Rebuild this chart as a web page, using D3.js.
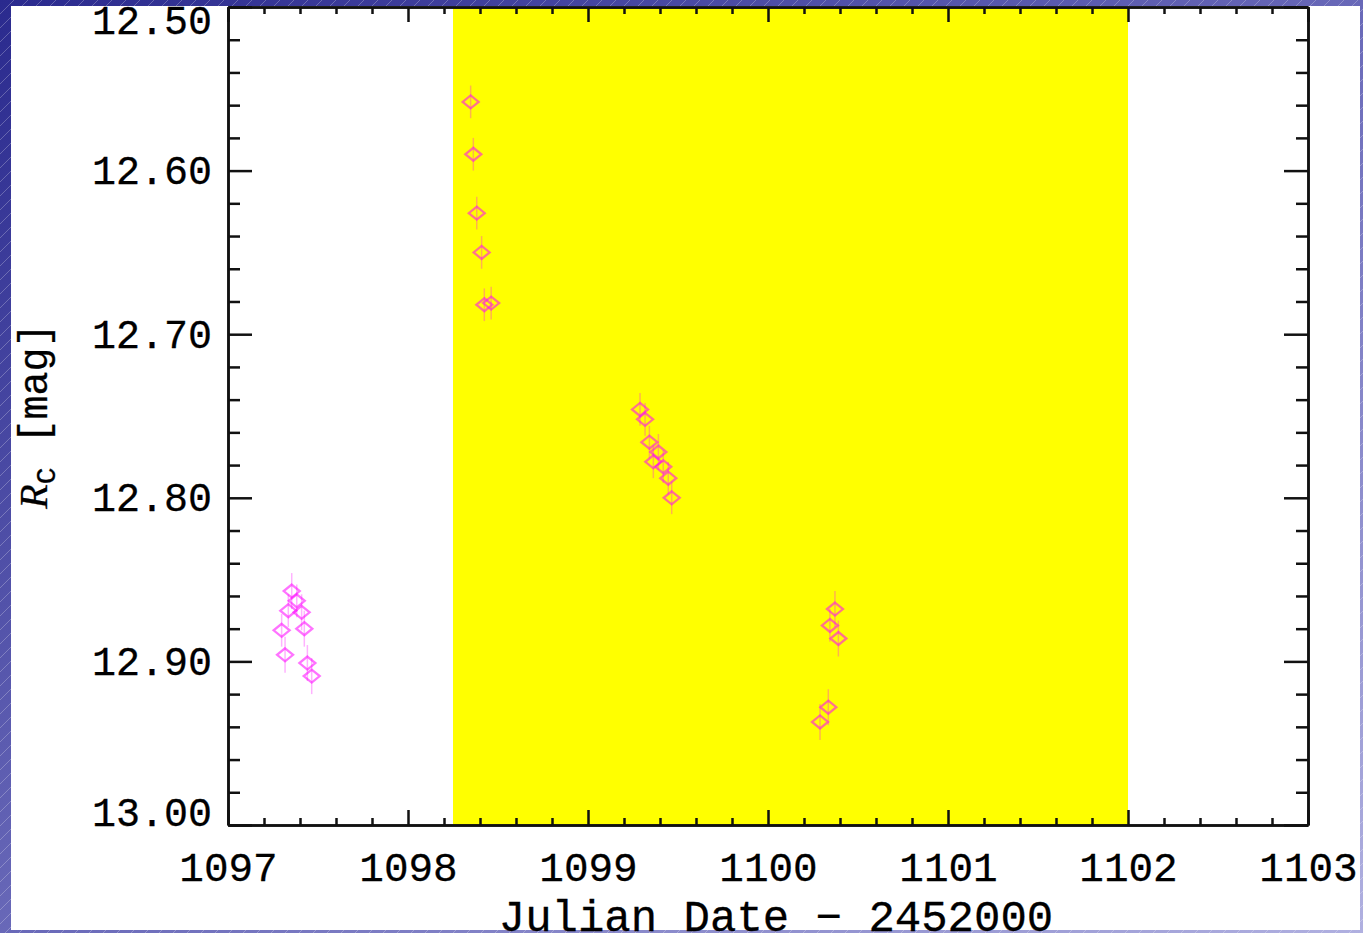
<!DOCTYPE html>
<html>
<head>
<meta charset="utf-8">
<script src="https://cdn.jsdelivr.net/npm/d3@7"></script>
<style>
  body { margin: 0; padding: 0; overflow: hidden; }
  svg { display: block; }
  .tick text { font-family: "Liberation Mono", monospace; fill: #000; }
</style>
</head>
<body>
<svg width="1363" height="933"></svg>
<script>
// observations (Julian Date - 2452000), Rc magnitude and its error
var jdValues = [
  1097.354, 1097.382, 1097.335, 1097.409, 1097.298, 1097.424, 1097.317, 1097.441, 1097.465,
  1098.348, 1098.363, 1098.382, 1098.409, 1098.424, 1098.462,
  1099.289, 1099.317, 1099.341, 1099.391, 1099.363, 1099.418, 1099.446, 1099.465,
  1100.372, 1100.344, 1100.391, 1100.335, 1100.289
];
var magValues = [
  12.857, 12.863, 12.869, 12.870, 12.881, 12.880, 12.896, 12.901, 12.909,
  12.558, 12.590, 12.626, 12.650, 12.682, 12.681,
  12.746, 12.752, 12.766, 12.772, 12.778, 12.781, 12.788, 12.800,
  12.868, 12.878, 12.886, 12.928, 12.937
];
var magErrors = [
  0.011, 0.010, 0.010, 0.011, 0.010, 0.011, 0.011, 0.011, 0.011,
  0.010, 0.010, 0.010, 0.010, 0.010, 0.010,
  0.010, 0.010, 0.010, 0.011, 0.010, 0.010, 0.010, 0.010,
  0.011, 0.010, 0.011, 0.011, 0.011
];
// shaded interval (yellow band)
var bandRange = [1098.25, 1102.0];
var xTickValues = [1097, 1098, 1099, 1100, 1101, 1102, 1103];
var yTickValues = [12.5, 12.6, 12.7, 12.8, 12.9, 13.0];

var svg = d3.select("svg"), width = +svg.attr("width"), height = +svg.attr("height");

// slide background: blue gradient with faint diagonal stripes
var defs = svg.append("defs");
var grad = defs.append("linearGradient").attr("id", "bg")
  .attr("x1", "0%").attr("y1", "0%").attr("x2", "100%").attr("y2", "100%");
grad.append("stop").attr("offset", "0%").attr("stop-color", "#2a2a8e");
grad.append("stop").attr("offset", "50%").attr("stop-color", "#6868b8");
grad.append("stop").attr("offset", "100%").attr("stop-color", "#b0b0e0");
var pat = defs.append("pattern").attr("id", "stripes")
  .attr("width", 14).attr("height", 14).attr("patternUnits", "userSpaceOnUse");
pat.append("path").attr("d", "M0,14 L14,0").attr("stroke", "#ffffff")
  .attr("stroke-opacity", 0.25).attr("stroke-width", 1);

svg.append("rect").attr("width", width).attr("height", height).attr("fill", "url(#bg)");
svg.append("rect").attr("width", width).attr("height", height).attr("fill", "url(#stripes)");
svg.append("rect").attr("x", 11).attr("y", 6).attr("width", 1349).attr("height", 924).attr("fill", "#ffffff");

// plot area (names avoid window.top etc.)
var plotLeft = 228, plotRight = 1308, plotTop = 7, plotBottom = 825;
var x = d3.scaleLinear().domain([1097, 1103]).range([plotLeft, plotRight]);
var y = d3.scaleLinear().domain([12.5, 13.0]).range([plotTop, plotBottom]);

var xMinor = d3.range(1097, 1103.001, 0.2).filter(function(v) { return Math.abs(v - Math.round(v)) > 1e-6; });
var yMinor = d3.range(12.5, 13.0001, 0.02).filter(function(v) { return Math.abs(v * 10 - Math.round(v * 10)) > 1e-6; });

// yellow band
svg.append("rect")
  .attr("x", x(bandRange[0])).attr("y", plotTop)
  .attr("width", x(bandRange[1]) - x(bandRange[0]))
  .attr("height", plotBottom - plotTop)
  .attr("fill", "#ffff00");

// data: error bars then open diamonds
var data = jdValues.map(function(d, i) { return { jd: d, mag: magValues[i], err: magErrors[i] }; });
var pts = svg.append("g").attr("class", "points");
pts.selectAll("line").data(data).enter().append("line")
  .attr("x1", function(d) { return x(d.jd); })
  .attr("x2", function(d) { return x(d.jd); })
  .attr("y1", function(d) { return y(d.mag - d.err); })
  .attr("y2", function(d) { return y(d.mag + d.err); })
  .attr("stroke", "#ff00ff").attr("stroke-opacity", 0.3).attr("stroke-width", 1.5);

var dw = 8, dh = 6.5;
pts.selectAll("path").data(data).enter().append("path")
  .attr("d", "M0," + (-dh) + "L" + dw + ",0L0," + dh + "L" + (-dw) + ",0Z")
  .attr("transform", function(d) { return "translate(" + x(d.jd) + "," + y(d.mag) + ")"; })
  .attr("fill", "none").attr("stroke", "#ff00ff").attr("stroke-opacity", 0.55).attr("stroke-width", 2.3);

// axes with inward ticks on all four sides
function styleAxis(g) {
  g.select(".domain").attr("stroke", "#111").attr("stroke-width", 2.5);
  g.selectAll(".tick line").attr("stroke", "#111").attr("stroke-width", 2.5);
}

var gx = svg.append("g").attr("transform", "translate(0," + plotBottom + ")")
  .call(d3.axisBottom(x).tickValues(xTickValues).tickFormat(d3.format("d")).tickSizeInner(-15).tickSizeOuter(0).tickPadding(27));
gx.selectAll(".tick text").attr("font-size", 41).attr("stroke", "#000").attr("stroke-width", 0.3);
styleAxis(gx);
svg.append("g").attr("transform", "translate(0," + plotBottom + ")")
  .call(d3.axisBottom(x).tickValues(xMinor).tickFormat("").tickSizeInner(-7).tickSizeOuter(0)).call(styleAxis);

var gt = svg.append("g").attr("transform", "translate(0," + plotTop + ")")
  .call(d3.axisTop(x).tickValues(xTickValues).tickFormat("").tickSizeInner(-15).tickSizeOuter(0));
styleAxis(gt);
svg.append("g").attr("transform", "translate(0," + plotTop + ")")
  .call(d3.axisTop(x).tickValues(xMinor).tickFormat("").tickSizeInner(-7).tickSizeOuter(0)).call(styleAxis);

var gy = svg.append("g").attr("transform", "translate(" + plotLeft + ",0)")
  .call(d3.axisLeft(y).tickValues(yTickValues).tickFormat(d3.format(".2f")).tickSizeInner(-24).tickSizeOuter(0).tickPadding(16));
gy.selectAll(".tick text").attr("font-size", 40).attr("stroke", "#000").attr("stroke-width", 0.3)
  // keep the end labels inside the frame
  .attr("y", function(d) { return d === 12.5 ? 14 : d === 13.0 ? -12 : 0; });
styleAxis(gy);
svg.append("g").attr("transform", "translate(" + plotLeft + ",0)")
  .call(d3.axisLeft(y).tickValues(yMinor).tickFormat("").tickSizeInner(-12).tickSizeOuter(0)).call(styleAxis);

var gr = svg.append("g").attr("transform", "translate(" + plotRight + ",0)")
  .call(d3.axisRight(y).tickValues(yTickValues).tickFormat("").tickSizeInner(-24).tickSizeOuter(0));
styleAxis(gr);
svg.append("g").attr("transform", "translate(" + plotRight + ",0)")
  .call(d3.axisRight(y).tickValues(yMinor).tickFormat("").tickSizeInner(-12).tickSizeOuter(0)).call(styleAxis);

// axis titles
svg.append("text")
  .attr("x", (plotLeft + plotRight) / 2 + 8).attr("y", 931)
  .attr("text-anchor", "middle")
  .attr("font-family", "Liberation Mono, monospace").attr("font-size", 44)
  .attr("stroke", "#000").attr("stroke-width", 0.3)
  .text("Julian Date \u2212 2452000");

var yt = svg.append("text")
  .attr("transform", "translate(47," + ((plotTop + plotBottom) / 2) + ") rotate(-90)")
  .attr("text-anchor", "middle")
  .attr("font-family", "Liberation Mono, monospace").attr("font-size", 40)
  .attr("stroke", "#000").attr("stroke-width", 0.3);
yt.append("tspan").attr("font-family", "Liberation Serif, serif").attr("font-style", "italic").text("R");
yt.append("tspan").attr("font-size", 28).attr("dy", 8).text("C");
yt.append("tspan").attr("dy", -8).text(" [mag]");
</script>
</body>
</html>
